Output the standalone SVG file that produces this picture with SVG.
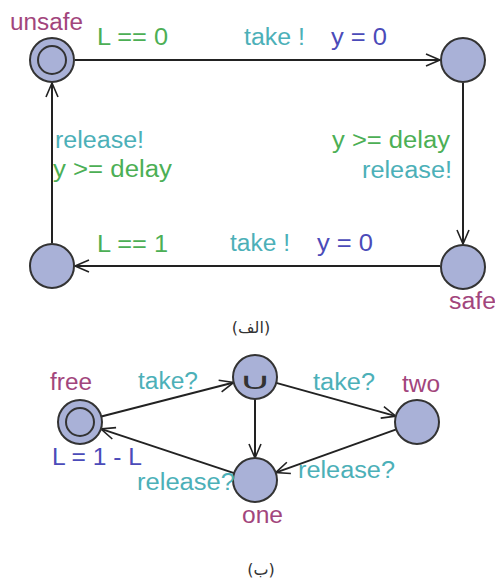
<svg xmlns="http://www.w3.org/2000/svg" width="495" height="579" viewBox="0 0 495 579">
  <style>
    text { font-family: "Liberation Sans", Arial, sans-serif; font-size: 23px; }
    .loc { fill: #a9b1d7; stroke: #333; stroke-width: 2; }
    .inner { fill: none; stroke: #333; stroke-width: 2; }
    .edge { fill: none; stroke: #222; stroke-width: 2; marker-end: url(#arrow); }
    .name { fill: #a2457c; }
    .guard { fill: #4caf55; }
    .sync { fill: #4cb0b8; }
    .assign { fill: #4b4bb9; }
    .cap { font-family: "DejaVu Sans", "Noto Sans", sans-serif; font-size: 16px; fill: #333; }
  </style>
  <defs>
    <marker id="arrow" markerUnits="userSpaceOnUse" markerWidth="20" markerHeight="16" viewBox="-16 -8 20 16" refX="0" refY="0" orient="auto">
      <path d="M-14,-6 L0,0 L-14,6" fill="none" stroke="#222" stroke-width="1.6"/>
    </marker>
  </defs>

  <!-- automaton (a): edges -->
  <g id="edges-a">
    <line class="edge" x1="75" y1="60" x2="440" y2="60"/>
    <line class="edge" x1="463" y1="83" x2="463" y2="244"/>
    <line class="edge" x1="440" y1="266" x2="75" y2="266"/>
    <line class="edge" x1="52" y1="243" x2="52" y2="83"/>
  </g>

  <!-- automaton (a): locations -->
  <g id="unsafe">
    <circle class="loc" cx="52" cy="60" r="22"/>
    <circle class="inner" cx="52" cy="60" r="14"/>
    <text class="name" x="10" y="30" textLength="73" lengthAdjust="spacingAndGlyphs">unsafe</text>
  </g>
  <g id="top-right">
    <circle class="loc" cx="463" cy="60" r="22"/>
  </g>
  <g id="safe">
    <circle class="loc" cx="463" cy="267" r="22"/>
    <text class="name" x="449" y="309" textLength="47" lengthAdjust="spacingAndGlyphs">safe</text>
  </g>
  <g id="bottom-left">
    <circle class="loc" cx="52" cy="266" r="22"/>
  </g>

  <!-- automaton (a): edge labels -->
  <g id="labels-a">
    <text class="guard" x="97" y="45" textLength="71" lengthAdjust="spacingAndGlyphs">L == 0</text>
    <text class="sync" x="244" y="45" textLength="61" lengthAdjust="spacingAndGlyphs">take !</text>
    <text class="assign" x="331" y="45" textLength="56" lengthAdjust="spacingAndGlyphs">y = 0</text>
    <text class="guard" x="332" y="148" textLength="118" lengthAdjust="spacingAndGlyphs">y &gt;= delay</text>
    <text class="sync" x="362" y="178" textLength="90" lengthAdjust="spacingAndGlyphs">release!</text>
    <text class="guard" x="97" y="252" textLength="71" lengthAdjust="spacingAndGlyphs">L == 1</text>
    <text class="sync" x="230" y="251" textLength="60" lengthAdjust="spacingAndGlyphs">take !</text>
    <text class="assign" x="317" y="251" textLength="56" lengthAdjust="spacingAndGlyphs">y = 0</text>
    <text class="sync" x="55" y="148" textLength="89" lengthAdjust="spacingAndGlyphs">release!</text>
    <text class="guard" x="53" y="177" textLength="119" lengthAdjust="spacingAndGlyphs">y &gt;= delay</text>
  </g>
  <text class="cap" x="251" y="333" text-anchor="middle" direction="rtl">(الف)</text>

  <!-- automaton (b): edges -->
  <g id="edges-b">
    <line class="edge" x1="101.3" y1="416.5" x2="233.7" y2="382.5"/>
    <line class="edge" x1="255" y1="399" x2="255" y2="458"/>
    <line class="edge" x1="276.2" y1="382.9" x2="395.8" y2="416.1"/>
    <line class="edge" x1="396.3" y1="429.4" x2="275.7" y2="472.6"/>
    <line class="edge" x1="234.1" y1="473.1" x2="100.9" y2="428.9"/>
  </g>

  <!-- automaton (b): locations -->
  <g id="free">
    <circle class="loc" cx="80" cy="422" r="22"/>
    <circle class="inner" cx="80" cy="422" r="14"/>
    <text class="name" x="50" y="390" textLength="42" lengthAdjust="spacingAndGlyphs">free</text>
    <text class="assign" x="52" y="465" textLength="90" lengthAdjust="spacingAndGlyphs">L = 1 - L</text>
  </g>
  <g id="urgent">
    <circle class="loc" cx="255" cy="377" r="22"/>
    <text transform="translate(255,389) scale(1,0.5)" text-anchor="middle" style="font-family:'DejaVu Sans',sans-serif;font-size:46px;fill:#333">∪</text>
  </g>
  <g id="two">
    <circle class="loc" cx="417" cy="422" r="22"/>
    <text class="name" x="402" y="392" textLength="38" lengthAdjust="spacingAndGlyphs">two</text>
  </g>
  <g id="one">
    <circle class="loc" cx="255" cy="480" r="22"/>
    <text class="name" x="242" y="523" textLength="41" lengthAdjust="spacingAndGlyphs">one</text>
  </g>

  <!-- automaton (b): edge labels -->
  <g id="labels-b">
    <text class="sync" x="138" y="389" textLength="60" lengthAdjust="spacingAndGlyphs">take?</text>
    <text class="sync" x="313" y="390" textLength="62" lengthAdjust="spacingAndGlyphs">take?</text>
    <text class="sync" x="298" y="478" textLength="97" lengthAdjust="spacingAndGlyphs">release?</text>
    <text class="sync" x="137" y="490" textLength="98" lengthAdjust="spacingAndGlyphs">release?</text>
  </g>
  <text class="cap" x="261" y="575" text-anchor="middle" direction="rtl">(ب)</text>
</svg>
